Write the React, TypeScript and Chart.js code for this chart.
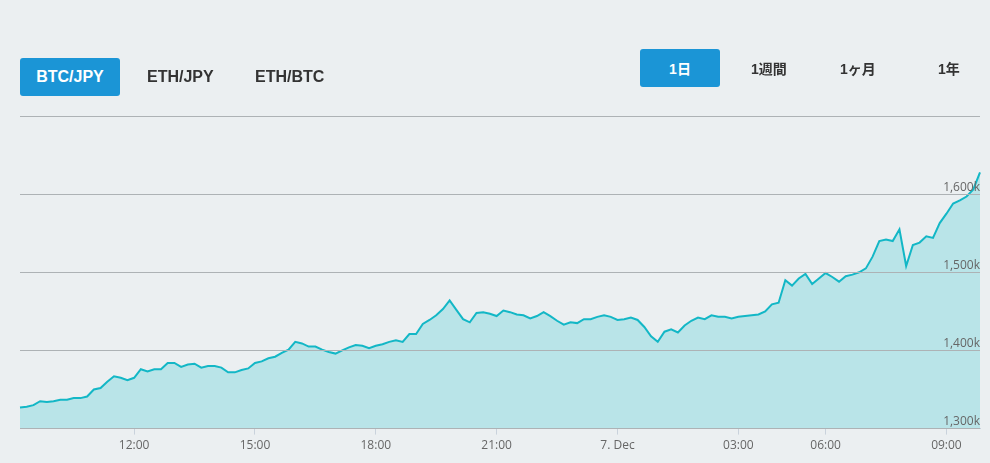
import React, { useEffect, useRef } from "react";
import { Chart, registerables } from "chart.js";

Chart.register(...registerables);

// 10-minute samples (ordinal axis: data between 04:00 and 05:00 missing)
const times = [
  "09:10", "09:20", "09:30", "09:40", "09:50",
  "10:00", "10:10", "10:20", "10:30", "10:40", "10:50",
  "11:00", "11:10", "11:20", "11:30", "11:40", "11:50",
  "12:00", "12:10", "12:20", "12:30", "12:40", "12:50",
  "13:00", "13:10", "13:20", "13:30", "13:40", "13:50",
  "14:00", "14:10", "14:20", "14:30", "14:40", "14:50",
  "15:00", "15:10", "15:20", "15:30", "15:40", "15:50",
  "16:00", "16:10", "16:20", "16:30", "16:40", "16:50",
  "17:00", "17:10", "17:20", "17:30", "17:40", "17:50",
  "18:00", "18:10", "18:20", "18:30", "18:40", "18:50",
  "19:00", "19:10", "19:20", "19:30", "19:40", "19:50",
  "20:00", "20:10", "20:20", "20:30", "20:40", "20:50",
  "21:00", "21:10", "21:20", "21:30", "21:40", "21:50",
  "22:00", "22:10", "22:20", "22:30", "22:40", "22:50",
  "23:00", "23:10", "23:20", "23:30", "23:40", "23:50",
  "00:00", "00:10", "00:20", "00:30", "00:40", "00:50",
  "01:00", "01:10", "01:20", "01:30", "01:40", "01:50",
  "02:00", "02:10", "02:20", "02:30", "02:40", "02:50",
  "03:00", "03:10", "03:20", "03:30", "03:40", "03:50",
  "04:00",
  "05:00", "05:10", "05:20", "05:30", "05:40", "05:50",
  "06:00", "06:10", "06:20", "06:30", "06:40", "06:50",
  "07:00", "07:10", "07:20", "07:30", "07:40", "07:50",
  "08:00", "08:10", "08:20", "08:30", "08:40", "08:50",
  "09:00", "09:10", "09:20", "09:30", "09:40", "09:50",
];

// BTC/JPY price, thousands of yen
const pricesK = [
  1327, 1328, 1330, 1335, 1334,
  1335, 1337, 1337, 1339, 1339, 1341,
  1350, 1352, 1360, 1367, 1365, 1362,
  1365, 1376, 1373, 1376, 1376, 1384,
  1384, 1379, 1382, 1383, 1378, 1380,
  1380, 1378, 1372, 1372, 1375, 1377,
  1384, 1386, 1390, 1392, 1397, 1401,
  1411, 1409, 1405, 1405, 1401, 1398,
  1396, 1400, 1404, 1407, 1406, 1403,
  1406, 1408, 1411, 1413, 1411, 1421,
  1421, 1434, 1439, 1445, 1453, 1464,
  1452, 1440, 1436, 1448, 1449, 1447,
  1444, 1451, 1449, 1446, 1445, 1441,
  1444, 1449, 1444, 1438, 1433, 1436,
  1435, 1440, 1440, 1443, 1445, 1443,
  1439, 1440, 1442, 1439, 1430, 1418,
  1411, 1424, 1427, 1423, 1432, 1438,
  1442, 1440, 1445, 1443, 1443, 1441,
  1443, 1444, 1445, 1446, 1450, 1459,
  1461,
  1490, 1483, 1492, 1498, 1485, 1492,
  1499, 1494, 1488, 1495, 1497, 1500,
  1505, 1520, 1540, 1542, 1540, 1555,
  1508, 1535, 1538, 1546, 1544, 1563,
  1575, 1588, 1592, 1597, 1606, 1628,
];

const tickTimes = ["12:00", "15:00", "18:00", "21:00", "00:00", "03:00", "06:00", "09:00"];
const tickTexts = ["12:00", "15:00", "18:00", "21:00", "7. Dec", "03:00", "06:00", "09:00"];

const pairButtons = ["BTC/JPY", "ETH/JPY", "ETH/BTC"];
const rangeButtons = ["1日", "1週間", "1ヶ月", "1年"];

const yMin = 1300;
const yMax = 1700;
const yStep = 100;

const BG = "#ebeff1";
const BLUE = "#1b95d6";

export default function App() {
  const canvasRef = useRef<HTMLCanvasElement | null>(null);

  useEffect(() => {
    const canvas = canvasRef.current;
    if (!canvas) return;
    const chart = new Chart(canvas, {
      type: "line",
      data: {
        labels: times,
        datasets: [
          {
            data: pricesK,
            borderColor: "#13b7c6",
            backgroundColor: "#b9e4e8",
            borderWidth: 2,
            pointRadius: 0,
            tension: 0,
            fill: "start",
          },
        ],
      },
      options: {
        animation: false,
        responsive: false,
        maintainAspectRatio: false,
        layout: { padding: { left: 20, right: 10, top: 116, bottom: 6 } },
        plugins: { legend: { display: false }, tooltip: { enabled: false } },
        scales: {
          x: {
            type: "category",
            offset: false,
            afterBuildTicks: (scale: any) => {
              scale.ticks = scale.ticks.filter((t: any) => tickTimes.includes(times[t.value]));
            },
            grid: { drawOnChartArea: false, drawTicks: true, tickLength: 6, color: "#c9d2dc" },
            border: { display: true, color: "#c9d2dc" },
            ticks: {
              autoSkip: false,
              maxRotation: 0,
              padding: 4,
              color: "#666666",
              font: { family: "'Open Sans'", size: 12 },
              callback: (v: any) => {
                const k = tickTimes.indexOf(times[Number(v)]);
                return k >= 0 ? tickTexts[k] : "";
              },
            },
          },
          y: {
            position: "right",
            min: yMin,
            max: yMax,
            grid: { color: "#adb2b5", drawTicks: false, z: 1 },
            border: { display: false },
            ticks: {
              z: 2,
              stepSize: yStep,
              mirror: true,
              padding: 0,
              labelOffset: -7,
              color: "#666666",
              font: { family: "'Open Sans'", size: 12 },
              callback: (v: any) => (Number(v) === yMax ? "" : Number(v).toLocaleString("en-US") + "k"),
            },
          },
        },
      },
    });
    return () => chart.destroy();
  }, []);

  const btnFont = "'Liberation Sans', Arial, 'Noto Sans CJK JP', sans-serif";
  const pairX = [20, 147, 255];
  const rangeX = [640, 751, 840, 938];

  return (
    <div style={{ position: "fixed", left: 0, top: 0, width: 990, height: 463, background: BG, overflow: "hidden" }}>
      <canvas ref={canvasRef} width={990} height={463} style={{ position: "absolute", left: 0, top: 0, width: 990, height: 463 }} />
      {pairButtons.map((b, i) =>
        i === 0 ? (
          <div key={b} style={{ position: "absolute", left: pairX[i], top: 58, width: 100, height: 38, background: BLUE, borderRadius: 3, color: "#fff", font: `bold 16px ${btnFont}`, display: "flex", alignItems: "center", justifyContent: "center" }}>{b}</div>
        ) : (
          <div key={b} style={{ position: "absolute", left: pairX[i], top: 58, height: 38, color: "#333", font: `bold 16px ${btnFont}`, display: "flex", alignItems: "center" }}>{b}</div>
        )
      )}
      {rangeButtons.map((b, i) =>
        i === 0 ? (
          <div key={b} style={{ position: "absolute", left: rangeX[i], top: 49, width: 80, height: 38, background: BLUE, borderRadius: 3, color: "#fff", font: `bold 14px ${btnFont}`, display: "flex", alignItems: "center", justifyContent: "center" }}>{b}</div>
        ) : (
          <div key={b} style={{ position: "absolute", left: rangeX[i], top: 49, height: 38, color: "#333", font: `bold 14px ${btnFont}`, display: "flex", alignItems: "center" }}>{b}</div>
        )
      )}
    </div>
  );
}
